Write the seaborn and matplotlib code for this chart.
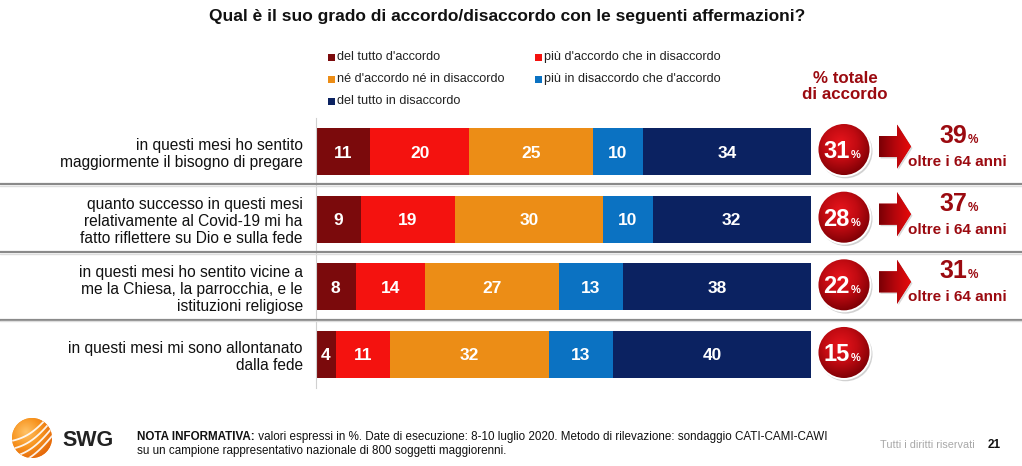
import numpy as np
import pandas as pd
import matplotlib
matplotlib.use("Agg")
import matplotlib.pyplot as plt
import seaborn as sns
from matplotlib.patches import Circle, Polygon, Rectangle
from matplotlib.colors import LinearSegmentedColormap

# ---------------- data ----------------
statements = [
    "in questi mesi ho sentito\nmaggiormente il bisogno di pregare",
    "quanto successo in questi mesi\nrelativamente al Covid-19 mi ha\nfatto riflettere su Dio e sulla fede",
    "in questi mesi ho sentito vicine a\nme la Chiesa, la parrocchia, e le\nistituzioni religiose",
    "in questi mesi mi sono allontanato\ndalla fede",
]
series = [
    "del tutto d'accordo",
    "più d'accordo che in disaccordo",
    "né d'accordo né in disaccordo",
    "più in disaccordo che d'accordo",
    "del tutto in disaccordo",
]
del_tutto_accordo = [11, 9, 8, 4]
piu_accordo = [20, 19, 14, 11]
neutrale = [25, 30, 27, 32]
piu_disaccordo = [10, 10, 13, 13]
del_tutto_disaccordo = [34, 32, 38, 40]
oltre_64 = [39, 37, 31, None]
oltre_64_label = "oltre i 64 anni"

title = "Qual è il suo grado di accordo/disaccordo con le seguenti affermazioni?"
totale_label = "% totale\ndi accordo"
nota_bold = "NOTA INFORMATIVA:"
nota_1 = (" valori espressi in %. Date di esecuzione: 8-10 luglio 2020. Metodo di rilevazione: "
          "sondaggio CATI-CAMI-CAWI")
nota_2 = "su un campione rappresentativo nazionale di 800 soggetti maggiorenni."
diritti = "Tutti i diritti riservati"
pagina = "21"

colors = ["#7B0A0C", "#F4120F", "#EC8D16", "#0B72C2", "#0B2261"]
dark_red = "#9B0A10"

values = np.array([del_tutto_accordo, piu_accordo, neutrale,
                   piu_disaccordo, del_tutto_disaccordo]).T  # rows x series
cum = np.cumsum(values, axis=1)
totale = values[:, 0] + values[:, 1]

df = pd.DataFrame(cum, columns=series)
df["statement"] = statements

# ---------------- figure ----------------
sns.set_theme(style="white")
plt.rcParams["font.family"] = ["Liberation Sans", "DejaVu Sans"]

W, H = 1022, 466
fig = plt.figure(figsize=(W / 100, H / 100), dpi=100)
fig.patch.set_facecolor("white")

top_px, bot_px = 117.7, 388.3
ax = fig.add_axes([316 / W, (H - bot_px) / H, 495 / W, (bot_px - top_px) / H])
for k in range(len(series) - 1, -1, -1):
    sns.barplot(data=df, x=series[k], y="statement", order=statements,
                color=colors[k], saturation=1, width=0.69, orient="h",
                linewidth=0, ax=ax)

ax.set_xlim(0, 100)
ax.set_ylim(3.5, -0.5)
ax.set_xticks([])
ax.set_xlabel("")
ax.set_ylabel("")
ax.set_yticks(range(len(statements)))
ax.set_yticklabels(statements, fontsize=11.2, color="#111111", ha="right",
                   linespacing=1.15)
ax.tick_params(axis="y", length=0, pad=9.5)
for s in ["top", "right", "bottom"]:
    ax.spines[s].set_visible(False)
ax.spines["left"].set_color("#d0d0d0")
ax.spines["left"].set_linewidth(0.8)
ax.patch.set_alpha(0)

for i in range(len(statements)):
    left = 0
    for k in range(len(series)):
        v = values[i, k]
        ax.text(left + v / 2, i, str(v), color="white", fontsize=12.5,
                fontweight="bold", ha="center", va="center_baseline")
        left += v

# ---------------- overlay ----------------
ov = fig.add_axes([0, 0, 1, 1], zorder=5)
ov.set_xlim(0, W)
ov.set_ylim(H, 0)
ov.axis("off")
ov.patch.set_alpha(0)

fig.canvas.draw()


def row_px(i):
    disp = ax.transData.transform((0, i))
    return ov.transData.inverted().transform(disp)[1]


# separators
for i in range(len(statements) - 1):
    y = (row_px(i) + row_px(i + 1)) / 2 - 1
    ov.plot([0, W], [y, y], color="#8a8a8a", lw=1.6, solid_capstyle="butt")
    ov.plot([0, W], [y + 1.5, y + 1.5], color="#dddddd", lw=1.0)

# title
ov.text(507, 17, title, fontsize=12.5, fontweight="bold", color="#111111",
        ha="center", va="center")

# legend
leg_pos = [(328, 57), (535, 57), (328, 79), (535, 79), (328, 101)]
for k, (lx, ly) in enumerate(leg_pos):
    ov.add_patch(Rectangle((lx, ly - 3.5), 7, 7, color=colors[k], lw=0))
    ov.text(lx + 9, ly, series[k], fontsize=9.1, color="#222222",
            ha="left", va="center")

ov.text(845, 86.5, totale_label, fontsize=12.2, fontweight="bold", color=dark_red,
        ha="center", va="center", linespacing=1.08)

# gradients
circ_cmap = LinearSegmentedColormap.from_list("c", ["#E8151C", "#C20B12", "#7E0005"])
arr_cmap = LinearSegmentedColormap.from_list("a", ["#7A0005", "#B5060C", "#E80A0A"])
g = np.linspace(-1, 1, 200)
GX, GY = np.meshgrid(g, g)
radial = np.clip(np.sqrt((GX + 0.15) ** 2 + (GY + 0.25) ** 2) / 1.25, 0, 1)
linear = np.tile(np.linspace(0, 1, 200), (200, 1))

cx, r = 844, 26.5
for i in range(len(statements)):
    cy = row_px(i) - 2
    ov.add_patch(Circle((cx + 1.5, cy + 1.8), r + 0.5, color="#000000",
                        alpha=0.18, lw=0))
    clip = Circle((cx, cy), r, transform=ov.transData)
    ov.add_patch(Circle((cx, cy), r, color="#C20B12", lw=0))
    im = ov.imshow(radial, cmap=circ_cmap, extent=[cx - r, cx + r, cy + r, cy - r],
                   interpolation="bilinear", zorder=2)
    im.set_clip_path(clip)
    ov.add_patch(Circle((cx, cy), r, fill=False, ec="white", lw=1.4, zorder=3))
    ov.text(cx + 6, cy + 8.5, str(totale[i]), color="white", fontsize=17,
            fontweight="bold", ha="right", va="baseline", zorder=4)
    ov.text(cx + 6.5, cy + 8.5, "%", color="white", fontsize=8,
            fontweight="bold", ha="left", va="baseline", zorder=4)

    if oltre_64[i] is not None:
        ac = row_px(i) - 5
        pts = [(879, ac - 10.5), (897, ac - 10.5), (897, ac - 22), (911, ac),
               (897, ac + 22), (897, ac + 10.5), (879, ac + 10.5)]
        shadow = Polygon([(x + 1.5, y + 1.5) for x, y in pts], closed=True,
                         color="#000000", alpha=0.15, lw=0)
        ov.add_patch(shadow)
        poly = Polygon(pts, closed=True, transform=ov.transData)
        ov.add_patch(Polygon(pts, closed=True, color="#B5060C", lw=0))
        im2 = ov.imshow(linear, cmap=arr_cmap,
                        extent=[879, 911, ac + 22, ac - 22],
                        interpolation="bilinear", zorder=2)
        im2.set_clip_path(poly)
        yc = row_px(i)
        ov.text(967, yc - 8.5, str(oltre_64[i]), color=dark_red, fontsize=18,
                fontweight="bold", ha="right", va="baseline")
        ov.text(968, yc - 8.5, "%", color=dark_red, fontsize=8.5,
                fontweight="bold", ha="left", va="baseline")
        ov.text(957, yc + 10.5, oltre_64_label, color=dark_red, fontsize=11,
                fontweight="bold", ha="center", va="center")

# footer logo
lx, ly, lr = 32, 438, 20
logo_cmap = LinearSegmentedColormap.from_list("l", ["#FFC266", "#F7931E", "#E2620A"])
lrad = np.clip(np.sqrt((GX + 0.3) ** 2 + (GY + 0.3) ** 2) / 1.5, 0, 1)
lclip = Circle((lx, ly), lr, transform=ov.transData)
ov.add_patch(Circle((lx, ly), lr, color="#F7931E", lw=0))
im3 = ov.imshow(lrad, cmap=logo_cmap, extent=[lx - lr, lx + lr, ly + lr, ly - lr],
                interpolation="bilinear", zorder=2)
im3.set_clip_path(lclip)
t = np.linspace(0, 1, 50)
for off in [-14, -6, 2, 10]:
    xs = lx - 25 + 50 * t
    ys = ly + 18 + off - 36 * t + 8 * np.sin(np.pi * t)
    ln, = ov.plot(xs, ys, color="white", lw=1.3, zorder=3, alpha=0.9)
    ln.set_clip_path(Circle((lx, ly), lr, transform=ov.transData))
ov.text(62, 440, "SWG", fontsize=15.5, fontweight="bold", color="#222222",
        ha="left", va="center")

# footer notes
fs_nota = 8.4
nt = ov.text(137, 437, nota_bold, fontsize=fs_nota, fontweight="bold", color="#111111",
             ha="left", va="center")
fig.canvas.draw()
bb = nt.get_window_extent()
x_end = ov.transData.inverted().transform((bb.x1, bb.y0))[0]
ov.text(x_end, 437, nota_1, fontsize=fs_nota, color="#111111", ha="left", va="center")
ov.text(137, 451, nota_2, fontsize=fs_nota, color="#111111", ha="left", va="center")
ov.text(975, 445, diritti, fontsize=7.8, color="#a8a8a8", ha="right", va="center")
ov.text(988, 445, pagina, fontsize=8.5, fontweight="bold", color="#111111",
        ha="left", va="center")

fig.savefig("out.png", dpi=100, facecolor="white")
